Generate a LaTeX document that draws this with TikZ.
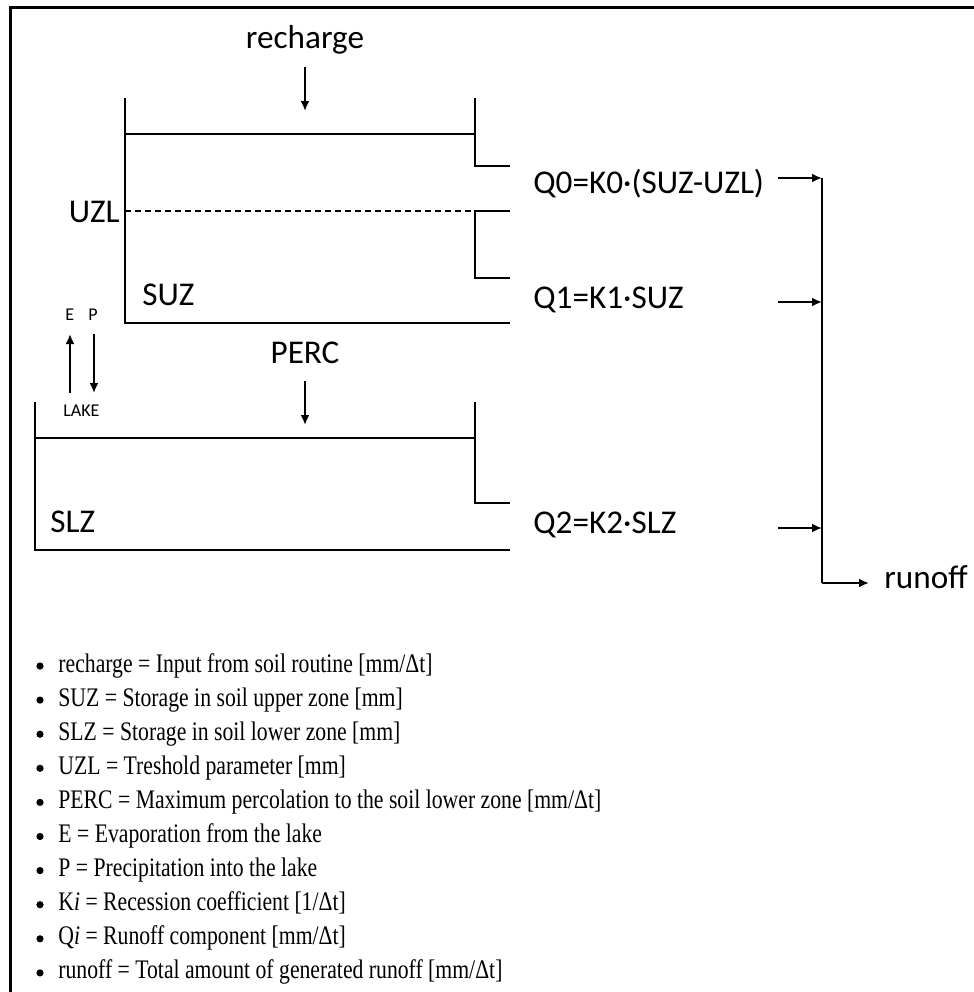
\documentclass[tikz,border=0pt]{standalone}
\usepackage{fontspec}
\setmainfont{Carlito}
\newfontfamily\listfont[FakeStretch=0.81]{Liberation Serif}
\usetikzlibrary{arrows.meta}
\begin{document}
\begin{tikzpicture}[x=0.5pt,y=-0.5pt,
  wall/.style={line width=1pt},
  lbl/.style={font=\fontsize{16.6}{20}\selectfont, inner sep=0pt},
  small/.style={font=\fontsize{9}{10}\selectfont, inner sep=0pt},
  flow/.style={line width=1pt,-{Latex[length=5pt,width=4.5pt]}},
  item/.style={font=\listfont\fontsize{13.4}{15}\selectfont, anchor=base west, inner sep=0pt},
  bullet/.style={circle, fill=black, inner sep=0pt, minimum size=3.6pt},
  frame/.style={line width=1.5pt}]
\useasboundingbox (0,0) rectangle (974,992);
\fill[white] (0,0) rectangle (974,992);
\draw[frame] (10,992) -- (10,7.5) -- (974,7.5);

% labels
\node[lbl, anchor=base] (rech) at (305,48) {recharge};
\node[lbl, anchor=base east] (uzl) at (120,222) {UZL};
\node[lbl, anchor=base west] (suz) at (142,305) {SUZ};
\node[lbl, anchor=base] (perc) at (305,363) {PERC};
\node[lbl, anchor=base west] (slz) at (50,532) {SLZ};
\node[lbl, anchor=base west] (q0) at (533,193) {Q0=K0·(SUZ-UZL)};
\node[lbl, anchor=base west] (q1) at (533,308) {Q1=K1·SUZ};
\node[lbl, anchor=base west] (q2) at (533,533) {Q2=K2·SLZ};
\node[lbl, anchor=base west] (runoff) at (884,588) {runoff};
\node[small, anchor=base west] (e) at (65,320) {E};
\node[small, anchor=base west] (p) at (88,320) {P};
\node[small, anchor=base west] (lake) at (63,416) {LAKE};

% upper tank
\coordinate (ut1) at (125,98);
\coordinate (ut2) at (125,134);
\coordinate (ut3) at (125,211);
\coordinate (ut4) at (125,323);
\coordinate (ur1) at (475,98);
\coordinate (ur2) at (475,134);
\coordinate (ur3) at (475,166);
\coordinate (ur4) at (510,166);
\coordinate (ur5) at (510,211);
\coordinate (ur6) at (475,211);
\coordinate (ur7) at (475,278);
\coordinate (ur8) at (510,278);
\coordinate (ur9) at (510,323);
\draw[wall] (ut1) -- (ut4) -- (ur9);
\draw[wall] (ut2) -- (ur2);
\draw[wall] (ur1) -- (ur3) -- (ur4);
\draw[wall, dash pattern=on 3pt off 2pt] (ut3) -- (ur6);
\draw[wall] (ur5) -- (ur6) -- (ur7) -- (ur8);

% lower tank
\coordinate (lt1) at (35,402);
\coordinate (lt2) at (35,438);
\coordinate (lt3) at (35,550);
\coordinate (lr1) at (475,402);
\coordinate (lr2) at (475,438);
\coordinate (lr3) at (475,503);
\coordinate (lr4) at (510,503);
\coordinate (lr5) at (510,550);
\draw[wall] (lt1) -- (lt3) -- (lr5);
\draw[wall] (lt2) -- (lr2);
\draw[wall] (lr1) -- (lr3) -- (lr4);

% vertical arrows
\coordinate (ra) at (305,67);
\coordinate (rb) at (305,111);
\draw[flow] (ra) -- (rb);
\coordinate (pa) at (305,381);
\coordinate (pb) at (305,425);
\draw[flow] (pa) -- (pb);
\coordinate (ea) at (70,393);
\coordinate (eb) at (70,334);
\draw[flow] (ea) -- (eb);
\coordinate (pa2) at (94,334);
\coordinate (pb2) at (94,393);
\draw[flow] (pa2) -- (pb2);

% outflow arrows
\coordinate (c0) at (822,178);
\coordinate (c1) at (822,302);
\coordinate (c2) at (822,528);
\coordinate (c3) at (822,583);
\coordinate (s0) at (778,178);
\coordinate (s1) at (778,302);
\coordinate (s2) at (778,528);
\coordinate (rt) at (869,583);
\draw[flow] (s0) -- (c0);
\draw[flow] (s1) -- (c1);
\draw[flow] (s2) -- (c2);
\draw[wall] (c0) -- (c3);
\draw[flow] (c3) -- (rt);

% list
\foreach \t [count=\i from 0] in {
  recharge = Input from soil routine [mm/Δt],
  SUZ = Storage in soil upper zone [mm],
  SLZ = Storage in soil lower zone [mm],
  UZL = Treshold parameter [mm],
  PERC = Maximum percolation to the soil lower zone [mm/Δt],
  E = Evaporation from the lake,
  P = Precipitation into the lake,
  K\textit{i} = Recession coefficient [1/Δt],
  Q\textit{i} = Runoff component [mm/Δt],
  runoff = Total amount of generated runoff [mm/Δt]} {
  \node[bullet] (b\i) at (40,{666+34.1*\i}) {};
  \node[item] (l\i) at (58,{672+34.1*\i}) {\t};
}
\end{tikzpicture}
\end{document}
